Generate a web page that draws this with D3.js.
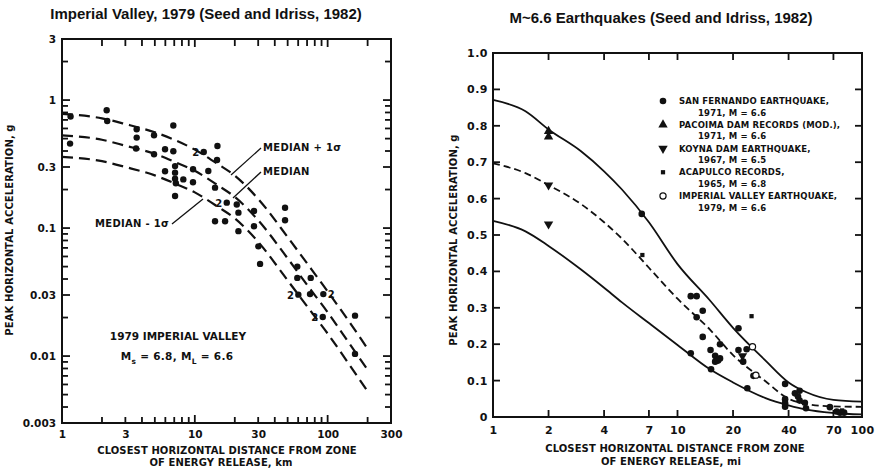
<!DOCTYPE html>
<html>
<head>
<meta charset="utf-8">
<script src="https://cdn.jsdelivr.net/npm/d3@7/dist/d3.min.js"></script>
<style>
  html, body { margin: 0; padding: 0; background: #fff; }
  svg { display: block; }
  .mono { font-family: "DejaVu Sans", sans-serif; font-weight: bold; fill: #111; }
  .title { font-family: "Liberation Sans", Arial, sans-serif; font-weight: bold; font-size: 15px; fill: #111; }
</style>
</head>
<body>
<svg id="chart" width="875" height="473"></svg>
<script>
// ---------- Left panel: Imperial Valley 1979 attenuation (log-log) ----------
const ivCurveDist   = [1, 2, 3, 5, 7, 10, 15, 20, 30, 50, 70, 100, 150, 200];
const ivMedianPlus  = [0.78, 0.72, 0.65, 0.56, 0.49, 0.41, 0.315, 0.257, 0.169, 0.085, 0.053, 0.032, 0.0177, 0.0114];
const ivMedian      = [0.53, 0.49, 0.44, 0.38, 0.33, 0.28, 0.215, 0.175, 0.115, 0.058, 0.036, 0.022, 0.012, 0.0078];
const ivMedianMinus = [0.36, 0.333, 0.30, 0.258, 0.224, 0.19, 0.146, 0.119, 0.078, 0.039, 0.0245, 0.015, 0.0082, 0.0053];

// recorded peak accelerations: distance (km), pga (g)
const ivRecDist = [1.16, 1.15, 2.17, 2.19, 3.65, 3.65, 3.61, 4.93, 4.93, 5.97, 6.89, 6.89, 5.97, 7.1, 7.1, 7.1, 7.2,
                   8.19, 7.1, 9.69, 9.7, 11.67, 12.64, 14.8, 14.7, 14.2, 14.2, 17.4, 20.7, 21.3, 16.9, 21.3,
                   47.8, 47.8, 27.9, 27.9, 30.1, 31.0, 59.1, 59.1, 74.6, 60.2, 73.7, 92.8, 91.9, 160.8, 160.8];
const ivRecPga  = [0.744, 0.457, 0.833, 0.687, 0.592, 0.509, 0.418, 0.531, 0.377, 0.413, 0.633, 0.398, 0.278, 0.305, 0.271, 0.243, 0.224,
                   0.24, 0.178, 0.228, 0.288, 0.393, 0.279, 0.438, 0.34, 0.207, 0.113, 0.158, 0.153, 0.132, 0.113, 0.0946,
                   0.144, 0.115, 0.136, 0.1034, 0.072, 0.0525, 0.050, 0.0408, 0.0408, 0.0302, 0.0305, 0.0305, 0.0202, 0.0207, 0.0104];
// stations with two records at one point: index into the arrays above, label side
const ivDoubleIdx  = [21, 27, 41, 43, 44];
const ivDoubleSide = ["left", "left", "left", "right", "left"];

const ivXLabels = [1, 3, 10, 30, 100, 300];
const ivYLabels = [3, 1, 0.3, 0.1, 0.03, 0.01, 0.003];

// ---------- Right panel: M ~ 6.6 earthquakes (semi-log) ----------
const mCurveDist = [1, 1.5, 2, 3, 4, 5, 7, 10, 15, 20, 30, 40, 50, 70, 100];
const mUpper     = [0.871, 0.84, 0.79, 0.73, 0.675, 0.625, 0.535, 0.42, 0.32, 0.245, 0.155, 0.095, 0.068, 0.047, 0.042];
const mMedian    = [0.697, 0.67, 0.637, 0.585, 0.535, 0.49, 0.41, 0.325, 0.24, 0.17, 0.098, 0.05, 0.036, 0.029, 0.028];
const mLower     = [0.539, 0.51, 0.47, 0.405, 0.355, 0.315, 0.258, 0.198, 0.131, 0.095, 0.052, 0.032, 0.02, 0.011, 0.007];

const sfDist = [6.4, 11.8, 12.7, 13.7, 12.7, 13.7, 11.8, 15.1, 17.0, 16.0, 16.3, 17.0, 16.0, 16.6, 15.2, 21.4, 21.4, 23.7,
                22.7, 25.8, 23.9, 38.3, 38.3, 38.3, 38.3, 43.3, 45.9, 45.0, 45.9, 49.0, 49.7, 67, 72.9, 76, 80];
const sfPga  = [0.558, 0.332, 0.332, 0.292, 0.274, 0.22, 0.175, 0.184, 0.20, 0.168, 0.158, 0.161, 0.152, 0.155, 0.131, 0.244, 0.184, 0.186,
                0.152, 0.113, 0.079, 0.091, 0.049, 0.038, 0.028, 0.065, 0.072, 0.056, 0.045, 0.039, 0.024, 0.027, 0.015, 0.012, 0.012];
const pacoimaDist = [2, 2];
const pacoimaPga  = [0.785, 0.77];
const koynaDist = [2, 2, 22.5];
const koynaPga  = [0.637, 0.53, 0.168];
const acapulcoDist = [6.45, 25.2, 78];
const acapulcoPga  = [0.445, 0.277, 0.018];
const imperialDist = [25.5, 26.6];
const imperialPga  = [0.193, 0.115];

const mXLabels = [1, 2, 4, 7, 10, 20, 40, 70, 100];
const mYLabels = [0, 0.1, 0.2, 0.3, 0.4, 0.5, 0.6, 0.7, 0.8, 0.9, 1.0];

const legendRows = [
  ["circle",   "SAN FERNANDO EARTHQUAKE,",    "1971, M = 6.6"],
  ["triUp",    "PACOIMA DAM RECORDS (MOD.),", "1971, M = 6.6"],
  ["triDown",  "KOYNA DAM EARTHQUAKE,",       "1967, M = 6.5"],
  ["square",   "ACAPULCO RECORDS,",           "1965, M = 6.8"],
  ["open",     "IMPERIAL VALLEY EARTHQUAKE,", "1979, M = 6.6"]
];

// ------------------------------------------------------------------
const svg = d3.select("#chart");
svg.append("rect").attr("width", 875).attr("height", 473).attr("fill", "#fff");
const ink = "#111";

function logTicks(lo, hi) {
  const out = [];
  for (let e = -4; e <= 3; e++) {
    const d = Math.pow(10, e);
    for (let k = 1; k <= 9; k++) {
      const v = +(k * d).toPrecision(3);
      if (v > lo * (1 + 1e-9) && v < hi * (1 - 1e-9)) out.push(v);
    }
  }
  return out;
}
// inward tick marks along one edge of a plot frame
function ticks(g, scale, values, edge, pos, len) {
  g.append("g").selectAll("line").data(values).join("line")
    .attr("x1", d => edge === "h" ? scale(d) : pos)
    .attr("x2", d => edge === "h" ? scale(d) : pos + len(d))
    .attr("y1", d => edge === "h" ? pos : scale(d))
    .attr("y2", d => edge === "h" ? pos + len(d) : scale(d))
    .attr("stroke", ink).attr("stroke-width", 1.8);
}
// tick labels through d3 axes (marks drawn separately)
function labelAxis(g, axis, fontSize, spacing) {
  g.call(axis.tickSize(0))
   .call(s => s.select(".domain").remove())
   .call(s => s.selectAll("text").attr("class", "mono").attr("font-size", fontSize).attr("letter-spacing", spacing));
}
function frame(g, xs, ys) {
  g.append("rect")
    .attr("x", xs.range()[0]).attr("y", ys.range()[1])
    .attr("width", xs.range()[1] - xs.range()[0]).attr("height", ys.range()[0] - ys.range()[1])
    .attr("fill", "none").attr("stroke", ink).attr("stroke-width", 2);
}
function label(g, x, y, text, size, opts = {}) {
  return g.append("text").attr("class", "mono").attr("font-size", size)
    .attr("x", x).attr("y", y).attr("text-anchor", opts.anchor || "start")
    .attr("letter-spacing", opts.spacing || 0).text(text);
}

// ===== Left panel =====
const xL = d3.scaleLog().domain([1, 300]).range([62, 391]);
const yL = d3.scaleLog().domain([0.003, 3]).range([423, 39]);
const left = svg.append("g");
const lxTicks = logTicks(1, 300);
const lyTicks = logTicks(0.003, 3);
const isIvY = v => ivYLabels.some(l => Math.abs(l - v) / l < 1e-6);
const isIvX = v => [10, 100].includes(v);

ticks(left, xL, lxTicks, "h", yL.range()[0], d => isIvX(d) ? -8 : -6);
ticks(left, xL, lxTicks, "h", yL.range()[1], d => isIvX(d) ? 8 : 7);
ticks(left, yL, lyTicks, "v", xL.range()[0], d => isIvY(d) ? 8 : 6);
ticks(left, yL, lyTicks, "v", xL.range()[1], d => isIvY(d) ? -8 : -6);

labelAxis(left.append("g").attr("transform", `translate(0,${yL.range()[0]})`),
  d3.axisBottom(xL).tickValues(ivXLabels).tickFormat(d => String(d)).tickPadding(8), 10.5, 0);
labelAxis(left.append("g").attr("transform", `translate(${xL.range()[0]},0)`),
  d3.axisLeft(yL).tickValues(ivYLabels).tickFormat(d => String(d)).tickPadding(6), 10.5, 0);
frame(left, xL, yL);

const lineL = d3.line().x(d => xL(d[0])).y(d => yL(d[1])).curve(d3.curveMonotoneX);
[ivMedianPlus, ivMedian, ivMedianMinus].forEach(vals => {
  left.append("path")
    .attr("d", lineL(ivCurveDist.map((x, i) => [x, vals[i]])))
    .attr("fill", "none").attr("stroke", ink).attr("stroke-width", 2.2)
    .attr("stroke-dasharray", "11,6");
});

left.append("g").selectAll("circle")
  .data(ivRecDist.map((x, i) => [x, ivRecPga[i]]))
  .join("circle")
  .attr("cx", d => xL(d[0])).attr("cy", d => yL(d[1])).attr("r", 3.2).attr("fill", ink);

left.append("g").selectAll("text")
  .data(ivDoubleIdx.map((k, j) => ({ x: ivRecDist[k], y: ivRecPga[k], side: ivDoubleSide[j] })))
  .join("text")
  .attr("class", "mono").attr("font-size", 10)
  .attr("x", d => xL(d.x) + (d.side === "left" ? -4.5 : 4.5))
  .attr("y", d => yL(d.y) + 4)
  .attr("text-anchor", d => d.side === "left" ? "end" : "start")
  .text("2");

// curve annotations with leader lines
const ann = left.append("g");
label(ann, 263, 151, "MEDIAN + 1σ", 10, { spacing: 0.3 });
label(ann, 263, 175, "MEDIAN", 10, { spacing: 0.3 });
label(ann, 95, 227, "MEDIAN - 1σ", 10, { spacing: 0.3 });
[[261, 148, 231, 175], [261, 172, 233, 198], [172, 224, 203, 199]].forEach(s => {
  ann.append("line").attr("x1", s[0]).attr("y1", s[1]).attr("x2", s[2]).attr("y2", s[3])
    .attr("stroke", ink).attr("stroke-width", 1.3);
});
label(ann, 178, 340, "1979 IMPERIAL VALLEY", 10.5, { anchor: "middle" });
const mag = label(ann, 177, 360, "", 10.5, { anchor: "middle", spacing: 0.3 });
mag.append("tspan").text("M");
mag.append("tspan").attr("font-size", 7.5).attr("dy", 4).text("s");
mag.append("tspan").attr("dy", -4).text(" = 6.8, M");
mag.append("tspan").attr("font-size", 7.5).attr("dy", 4).text("L");
mag.append("tspan").attr("dy", -4).text(" = 6.6");

// axis titles
left.append("text").attr("class", "mono").attr("font-size", 10).attr("letter-spacing", 0.1)
  .attr("transform", "translate(9,230) rotate(-90)").attr("text-anchor", "middle").attr("dy", "0.35em")
  .text("PEAK HORIZONTAL ACCELERATION, g");
label(left, 227, 454, "CLOSEST HORIZONTAL DISTANCE FROM ZONE", 10, { anchor: "middle", spacing: 0.1 });
label(left, 221, 466, "OF ENERGY RELEASE, km", 10, { anchor: "middle", spacing: 0.1 });
svg.append("text").attr("class", "title").attr("x", 206).attr("y", 18.5).attr("text-anchor", "middle")
  .text("Imperial Valley, 1979 (Seed and Idriss, 1982)");

// ===== Right panel =====
const xR = d3.scaleLog().domain([1, 100]).range([493, 862]);
const yR = d3.scaleLinear().domain([0, 1]).range([417, 53]);
const right = svg.append("g");
const rxTicks = mXLabels.filter(v => v > 1 && v < 100);
const ryTicks = mYLabels.filter(v => v > 0 && v < 1);
const fmtR = d => d === 0 ? "0" : d3.format(".1f")(d);

ticks(right, xR, rxTicks, "h", yR.range()[0], () => -7);
ticks(right, xR, rxTicks, "h", yR.range()[1], () => 7);
ticks(right, yR, ryTicks, "v", xR.range()[0], () => 7);
ticks(right, yR, ryTicks, "v", xR.range()[1], () => -7);

labelAxis(right.append("g").attr("transform", `translate(0,${yR.range()[0]})`),
  d3.axisBottom(xR).tickValues(mXLabels).tickFormat(d => String(d)).tickPadding(9), 11, 0.3);
labelAxis(right.append("g").attr("transform", `translate(${xR.range()[0]},0)`),
  d3.axisLeft(yR).tickValues(mYLabels).tickFormat(fmtR).tickPadding(5), 11, 0.5);
frame(right, xR, yR);

const lineR = d3.line().x(d => xR(d[0])).y(d => yR(d[1])).curve(d3.curveMonotoneX);
[[mUpper, null], [mMedian, "7,4"], [mLower, null]].forEach(([vals, dash]) => {
  right.append("path")
    .attr("d", lineR(mCurveDist.map((x, i) => [x, vals[i]])))
    .attr("fill", "none").attr("stroke", ink).attr("stroke-width", 1.8)
    .attr("stroke-dasharray", dash);
});

const symArea = { triUp: 38, triDown: 38, square: 18 };
function marker(g, kind, x, y) {
  if (kind === "circle") return g.append("circle").attr("cx", x).attr("cy", y).attr("r", 3.3).attr("fill", ink);
  if (kind === "open") return g.append("circle").attr("cx", x).attr("cy", y).attr("r", 3.1)
    .attr("fill", "#fff").attr("stroke", ink).attr("stroke-width", 1.2);
  const type = kind === "square" ? d3.symbolSquare : d3.symbolTriangle;
  return g.append("path").attr("d", d3.symbol(type, symArea[kind])())
    .attr("transform", `translate(${x},${y})${kind === "triDown" ? " rotate(180)" : ""}`)
    .attr("fill", ink);
}
const pts = right.append("g");
[["circle", sfDist, sfPga], ["triUp", pacoimaDist, pacoimaPga], ["triDown", koynaDist, koynaPga],
 ["square", acapulcoDist, acapulcoPga], ["open", imperialDist, imperialPga]].forEach(([kind, xs, ys]) => {
  xs.forEach((x, i) => marker(pts, kind, xR(x), yR(ys[i])));
});

// legend
const leg = right.append("g");
legendRows.forEach((row, i) => {
  const y0 = 101 + i * 23.75;
  marker(leg, row[0], 663, y0);
  label(leg, 679, y0 + 3.2, row[1], 8.5, { spacing: 0.15 });
  label(leg, 698, y0 + 14.5, row[2], 8.5, { spacing: 0.15 });
});

right.append("text").attr("class", "mono").attr("font-size", 10).attr("letter-spacing", 0.1)
  .attr("transform", "translate(453,240) rotate(-90)").attr("text-anchor", "middle").attr("dy", "0.35em")
  .text("PEAK HORIZONTAL ACCELERATION, g");
label(right, 675, 452, "CLOSEST HORIZONTAL DISTANCE FROM ZONE", 10, { anchor: "middle", spacing: 0.1 });
label(right, 671, 465, "OF ENERGY RELEASE, mi", 10, { anchor: "middle", spacing: 0.1 });
svg.append("text").attr("class", "title").attr("x", 661).attr("y", 23).attr("text-anchor", "middle")
  .text("M~6.6 Earthquakes (Seed and Idriss, 1982)");
</script>
</body>
</html>
